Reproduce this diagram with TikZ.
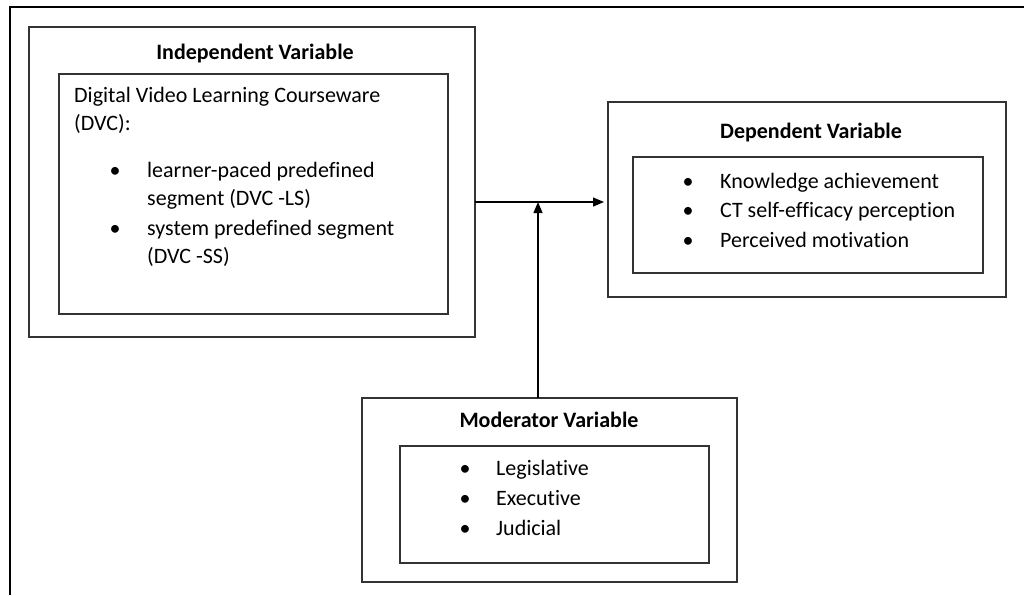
\documentclass[tikz,border=0pt]{standalone}
\usepackage{fontspec}
\setmainfont{Carlito}[Ligatures=CommonOff]
\usetikzlibrary{arrows.meta}
\begin{document}
\begin{tikzpicture}[x=1pt,y=-1pt,
  box/.style={draw=black!80, line width=1.3pt, inner sep=0pt, outer sep=0pt, anchor=north west},
  txt/.style={anchor=base west, inner sep=0pt, font=\fontsize{22}{26}\selectfont},
  ttl/.style={anchor=base, inner sep=0pt, font=\fontsize{22}{26}\selectfont\bfseries},
  bul/.style={anchor=base, inner sep=0pt, font=\fontsize{22}{26}\selectfont},
  arr/.style={draw=black, line width=1.2pt, -{Triangle[length=11pt,width=9pt]}}]
\useasboundingbox (0,0) rectangle (1024,595);
% outer frame
\coordinate (fb) at (10,595);
\coordinate (ft) at (10,7);
\coordinate (fr) at (1024,7);
\draw[line width=2pt, black] (fb) -- (ft) -- (fr);
% Independent
\node[box, minimum width=446pt, minimum height=310pt] (ivout) at (29,27) {};
\node[box, minimum width=389pt, minimum height=240pt] (ivin) at (59,74) {};
\node[ttl] (ivt) at (255,59) {Independent Variable};
\node[txt] (iv1) at (74,102) {Digital Video Learning Courseware};
\node[txt] (iv2) at (74,130) {(DVC):};
\node[bul] (ivb1) at (115,177) {•};
\node[txt] (iv3) at (147,177) {learner-paced predefined};
\node[txt] (iv4) at (147,205) {segment (DVC -LS)};
\node[bul] (ivb2) at (115,235) {•};
\node[txt] (iv5) at (147,235) {system predefined segment};
\node[txt] (iv6) at (147,263) {(DVC -SS)};
% Dependent
\node[box, minimum width=398pt, minimum height=195pt] (dvout) at (608,102) {};
\node[box, minimum width=350pt, minimum height=116pt] (dvin) at (633,157) {};
\node[ttl] (dvt) at (811,138) {Dependent Variable};
\node[bul] (dvb1) at (688,188) {•};
\node[txt] (dv1) at (720,188) {Knowledge achievement};
\node[bul] (dvb2) at (688,217) {•};
\node[txt] (dv2) at (720,217) {CT self-efficacy perception};
\node[bul] (dvb3) at (688,247) {•};
\node[txt] (dv3) at (720,247) {Perceived motivation};
% Moderator
\node[box, minimum width=375pt, minimum height=184pt] (mvout) at (362,398) {};
\node[box, minimum width=309pt, minimum height=117pt] (mvin) at (400,446) {};
\node[ttl] (mvt) at (549,427) {Moderator Variable};
\node[bul] (mvb1) at (465,475) {•};
\node[txt] (mv1) at (496,475) {Legislative};
\node[bul] (mvb2) at (465,505) {•};
\node[txt] (mv2) at (496,505) {Executive};
\node[bul] (mvb3) at (465,535) {•};
\node[txt] (mv3) at (496,535) {Judicial};
% connectors
\coordinate (j) at (538,202);
\draw[arr, shorten >=4pt] (ivout.east |- j) -- (dvout.west |- j);
\draw[arr] (mvout.north -| j) -- (j);
\end{tikzpicture}
\end{document}
